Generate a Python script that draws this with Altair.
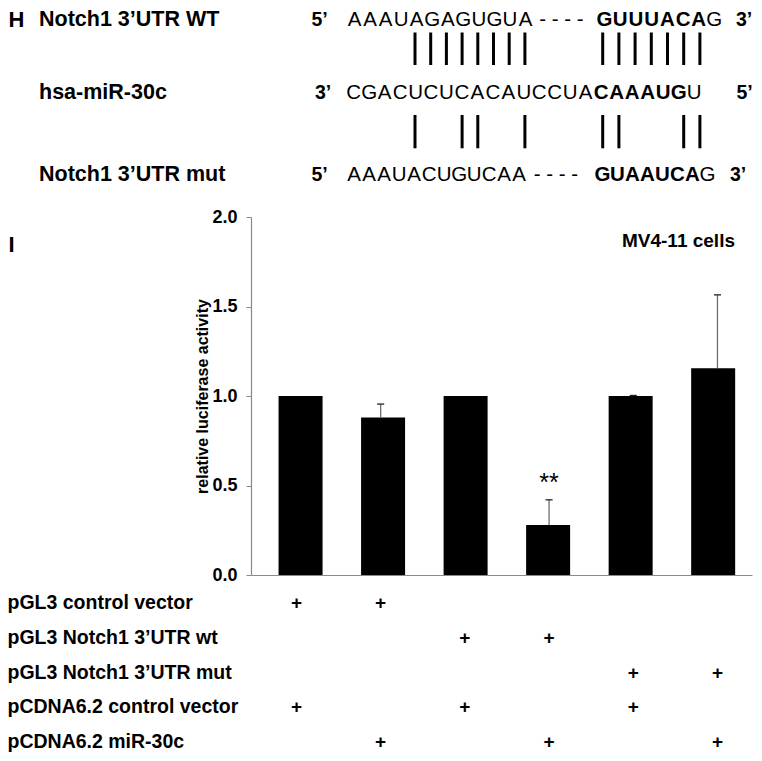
import altair as alt
import pandas as pd

# ---------------- data ----------------
groups = [1, 2, 3, 4, 5, 6]
values = [1.0, 0.88, 1.0, 0.28, 1.0, 1.155]
errors = [0.0, 0.075, 0.0, 0.14, 0.003, 0.41]
signif = ["", "", "", "**", "", ""]

row_labels = ["pGL3 control vector", "pGL3 Notch1 3\u2019UTR wt", "pGL3 Notch1 3\u2019UTR mut",
              "pCDNA6.2 control vector", "pCDNA6.2 miR-30c"]
plus_matrix = [
    [1, 1, 0, 0, 0, 0],
    [0, 0, 1, 1, 0, 0],
    [0, 0, 0, 0, 1, 1],
    [1, 0, 1, 0, 1, 0],
    [0, 1, 0, 1, 0, 1],
]

seq_names = ["Notch1 3\u2019UTR WT", "hsa-miR-30c", "Notch1 3\u2019UTR mut"]
seq_left_end = ["5\u2019", "3\u2019", "5\u2019"]
seq_right_end = ["3\u2019", "5\u2019", "3\u2019"]
wt_segments = [("AAAUAGAGUGUA", False), ("----", False), ("GUUUACA", True), ("G", False)]
mir_segments = [("CGACUCUCACAUCCUA", False), ("CAAAUG", True), ("U", False)]
mut_segments = [("AAAUACUGUCAA", False), ("----", False), ("GUAAUCA", True), ("G", False)]
upper_pairs = [4, 5, 6, 7, 8, 9, 10, 11, 16, 17, 18, 19, 20, 21, 22]
lower_pairs = [4, 7, 8, 11, 16, 17, 21, 22]

panel_letters = ["H", "I"]
cell_line = "MV4-11 cells"
y_title = "relative luciferase activity"

# ---------------- layout ----------------
FONT = "Liberation Sans"
X0, Y0 = 251, 217          # page position of plot origin
W, H = 501, 358
XDOM = [0.46, 6.41]


def vx(px):
    return px - X0


def vy(py):
    return py - Y0


row_y = [19.5, 92.5, 175.0]
# (start x, pitch) for each segment of each row
seg_layout = [
    [(346.7, 15.55), (536.5, 12.5), (596.7, 15.7), (706.7, 15.0)],
    [(346.0, 15.46), (593.3, 15.55), (686.7, 15.0)],
    [(346.7, 15.0), (531.0, 12.5), (595.0, 15.0), (700.0, 15.0)],
]
end_x = [(311.5, 736.0), (315.0, 736.5), (311.5, 730.0)]
SEQ_FS = 20.5
END_FS = 19.5


def line_x(i):
    if i < 16:
        return 415.0 + 15.7 * (i - 4)
    return 602.7 + 16.2 * (i - 16)


ann = []


def add(text, x, y, size, bold, align="left"):
    ann.append(dict(t=text, x=vx(x), y=vy(y), s=size, w="bold" if bold else "normal", a=align))


add(panel_letters[0], 8.5, 19.5, 22, True)
add(panel_letters[1], 8.5, 245, 22, True)

for r, segs in enumerate([wt_segments, mir_segments, mut_segments]):
    y = row_y[r]
    add(seq_names[r], 39, y, 21.5, True)
    add(seq_left_end[r], end_x[r][0], y, END_FS, True)
    for (txt, bold), (sx, pitch) in zip(segs, seg_layout[r]):
        for i, ch in enumerate(txt):
            add(ch, sx + pitch * (i + 0.5), y, SEQ_FS, bold, "center")
    add(seq_right_end[r], end_x[r][1], y, END_FS, True)

ROW_Y = [603 + 34.75 * i for i in range(len(row_labels))]
for i, lab in enumerate(row_labels):
    add(lab, 7.5, ROW_Y[i], 19.5, True)

add(cell_line, 735, 241, 19, True, "right")

ann_df = pd.DataFrame(ann)

pair_rows = []
for i in upper_pairs:
    pair_rows.append(dict(x=vx(line_x(i)), y=vy(32.5), y2=vy(65)))
for i in lower_pairs:
    pair_rows.append(dict(x=vx(line_x(i)), y=vy(115), y2=vy(148.3)))
pair_df = pd.DataFrame(pair_rows)

bar_df = pd.DataFrame(dict(grp=groups, value=values, err=errors, sig=signif))
bar_df["top"] = bar_df["value"] + bar_df["err"]
bar_df["capL"] = bar_df["grp"] - 0.042
bar_df["capR"] = bar_df["grp"] + 0.042
err_df = bar_df[bar_df["err"] > 0]

plus_rows = []
for r, flags in enumerate(plus_matrix):
    for g, f in zip(groups, flags):
        if f:
            plus_rows.append(dict(grp=g, y=vy(ROW_Y[r])))
plus_df = pd.DataFrame(plus_rows)

xs = alt.Scale(domain=XDOM, nice=False, zero=False)
ys = alt.Scale(domain=[0, 2], nice=False)

bars = alt.Chart(bar_df).mark_bar(size=44, color="black").encode(
    x=alt.X("grp:Q", scale=xs,
            axis=alt.Axis(labels=False, ticks=False, grid=False, title=None,
                          domainColor="#8a8a8a", domainWidth=1.2)),
    y=alt.Y("value:Q", scale=ys,
            axis=alt.Axis(values=[0, 0.5, 1, 1.5, 2], format=".1f", grid=False,
                          labelFont=FONT, labelFontWeight="bold", labelFontSize=18,
                          labelColor="black", labelPadding=9, tickSize=5,
                          tickColor="#8a8a8a", domainColor="#8a8a8a", domainWidth=1.2,
                          title=y_title, titleFont=FONT, titleFontSize=16,
                          titleFontWeight="bold", titleColor="black",
                          titleX=-41, titleY=H / 2, titleAngle=270,
                          titleAlign="center", titleBaseline="bottom")),
)

err_line = alt.Chart(err_df).mark_rule(color="#6e6e6e", strokeWidth=1.3).encode(
    x=alt.X("grp:Q", scale=xs, axis=None),
    y=alt.Y("value:Q", scale=ys, axis=None),
    y2="top:Q",
)
err_cap = alt.Chart(err_df).mark_rule(color="#222222", strokeWidth=1.3).encode(
    x=alt.X("capL:Q", scale=xs, axis=None),
    x2="capR:Q",
    y=alt.Y("top:Q", scale=ys, axis=None),
)
stars = alt.Chart(bar_df).mark_text(font=FONT, fontSize=25, dy=-17, baseline="middle",
                                    color="black").encode(
    x=alt.X("grp:Q", scale=xs, axis=None),
    y=alt.Y("top:Q", scale=ys, axis=None),
    text="sig:N",
)

plus = alt.Chart(plus_df).mark_text(font=FONT, fontSize=19, fontWeight="bold",
                                    baseline="middle", color="black").encode(
    x=alt.X("grp:Q", scale=xs, axis=None),
    y=alt.Y("y:Q", scale=None, axis=None),
    text=alt.value("+"),
)

text_layers = []
for (s, w, a), sub in ann_df.groupby(["s", "w", "a"]):
    text_layers.append(
        alt.Chart(sub.reset_index(drop=True)).mark_text(
            font=FONT, baseline="middle", color="black", fontSize=float(s),
            fontWeight=w, align=a).encode(
            x=alt.X("x:Q", scale=None, axis=None),
            y=alt.Y("y:Q", scale=None, axis=None),
            text="t:N",
        )
    )

pairs = alt.Chart(pair_df).mark_rule(color="black", strokeWidth=3).encode(
    x=alt.X("x:Q", scale=None, axis=None),
    y=alt.Y("y:Q", scale=None, axis=None),
    y2="y2:Q",
)

chart = alt.layer(bars, err_line, err_cap, stars, plus, *text_layers, pairs).resolve_scale(
    x="independent", y="independent"
).properties(
    width=W, height=H,
    autosize=alt.AutoSizeParams(type="none"),
    padding={"left": X0 - 8, "top": Y0 - 8, "right": 746 - (X0 - 8) - W,
             "bottom": 745 - (Y0 - 8) - H},
    background="white",
).configure_view(stroke=None)

chart.save("out.html", embed_options={"renderer": "svg", "actions": False})
